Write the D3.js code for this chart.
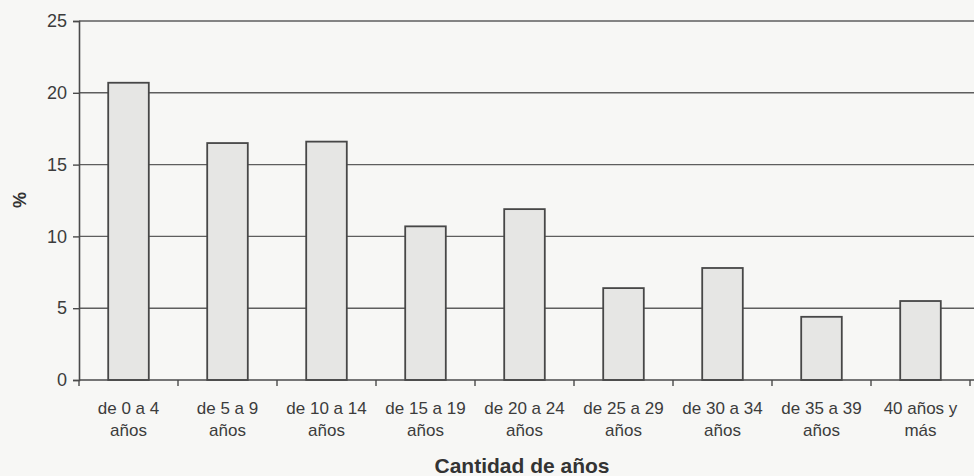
<!DOCTYPE html>
<html>
<head>
<meta charset="utf-8">
<script src="https://cdn.jsdelivr.net/npm/d3@7"></script>
<style>
  html, body { margin: 0; padding: 0; background: #f7f7f5; }
  svg { display: block; }
</style>
</head>
<body>
<svg id="chart" width="974" height="476"></svg>
<script>
const categories = [
  ["de 0 a 4", "años"],
  ["de 5 a 9", "años"],
  ["de 10 a 14", "años"],
  ["de 15 a 19", "años"],
  ["de 20 a 24", "años"],
  ["de 25 a 29", "años"],
  ["de 30 a 34", "años"],
  ["de 35 a 39", "años"],
  ["40 años y", "más"]
];
const values = [20.7, 16.5, 16.6, 10.7, 11.9, 6.4, 7.8, 4.4, 5.5];
const yTicks = [0, 5, 10, 15, 20, 25];
const xTitle = "Cantidad de años";
const yTitle = "%";

const svg = d3.select("#chart");
const W = 974, H = 476;
const m = { left: 79, right: 0, top: 21, bottom: 96 };
const plotH = H - m.top - m.bottom;
const font = "Liberation Sans, Arial, Helvetica, sans-serif";

svg.append("rect").attr("width", W).attr("height", H).attr("fill", "#f7f7f5");

const x = d3.scaleBand()
  .domain(d3.range(categories.length))
  .range([m.left, m.left + 99 * categories.length])
  .paddingInner(0.59).paddingOuter(0.295);

const xb = d3.scaleBand()
  .domain(d3.range(categories.length))
  .range([m.left, m.left + 99 * categories.length]);

const y = d3.scaleLinear().domain([0, 25]).range([m.top + plotH, m.top]);

const ink = "#4a4a4a";

// gridlines
svg.append("g").selectAll("line").data(yTicks.filter(d => d > 0)).join("line")
  .attr("x1", m.left).attr("x2", W)
  .attr("y1", d => y(d)).attr("y2", d => y(d))
  .attr("stroke", "#5e5e5e").attr("stroke-width", 1.4);

// bars
svg.append("g").selectAll("rect").data(values).join("rect")
  .attr("x", (d, i) => x(i))
  .attr("width", x.bandwidth())
  .attr("y", d => y(d))
  .attr("height", d => y(0) - y(d))
  .attr("fill", "#e6e6e4")
  .attr("stroke", "#474747")
  .attr("stroke-width", 1.8);

// y axis
const yAxis = d3.axisLeft(y).tickValues(yTicks).tickSize(6).tickPadding(6);
const gy = svg.append("g").attr("transform", `translate(${m.left},0)`).call(yAxis);
gy.select(".domain").attr("stroke", ink).attr("stroke-width", 1.6);
gy.selectAll(".tick line").attr("stroke", ink).attr("stroke-width", 1.4);
gy.selectAll(".tick text")
  .attr("font-family", font)
  .attr("font-size", 18).attr("fill", "#3c3c3c");

// x axis baseline and ticks at band boundaries
svg.append("line")
  .attr("x1", m.left).attr("x2", W)
  .attr("y1", y(0)).attr("y2", y(0))
  .attr("stroke", ink).attr("stroke-width", 1.6);
svg.append("g").selectAll("line").data(d3.range(categories.length + 1)).join("line")
  .attr("x1", i => m.left + xb.step() * i)
  .attr("x2", i => m.left + xb.step() * i)
  .attr("y1", y(0)).attr("y2", y(0) + 6)
  .attr("stroke", ink).attr("stroke-width", 1.4);

// x labels
const lab = svg.append("g")
  .attr("font-family", font)
  .attr("font-size", 17).attr("fill", "#3c3c3c").attr("text-anchor", "middle");
categories.forEach((c, i) => {
  const cx = xb(i) + xb.bandwidth() / 2;
  const t = lab.append("text").attr("x", cx).attr("y", y(0) + 34);
  t.append("tspan").attr("x", cx).text(c[0]);
  t.append("tspan").attr("x", cx).attr("dy", 22).text(c[1]);
});

// titles
svg.append("text")
  .attr("x", 522).attr("y", 473)
  .attr("text-anchor", "middle")
  .attr("font-family", font)
  .attr("font-size", 21).attr("font-weight", "bold").attr("fill", "#333")
  .text(xTitle);

svg.append("text")
  .attr("transform", `translate(26,200) rotate(-90)`)
  .attr("text-anchor", "middle")
  .attr("font-family", font)
  .attr("font-size", 18).attr("font-weight", "bold").attr("fill", "#333")
  .text(yTitle);
</script>
</body>
</html>
